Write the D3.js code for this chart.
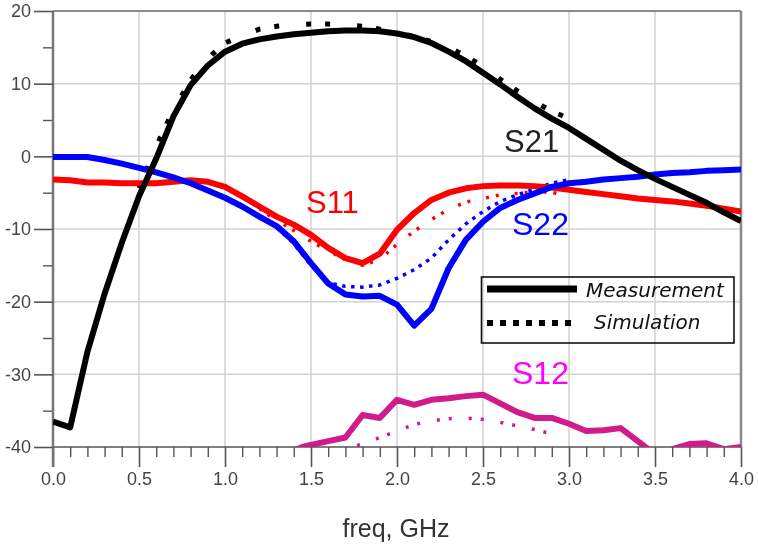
<!DOCTYPE html>
<html>
<head>
<meta charset="utf-8">
<script src="https://cdnjs.cloudflare.com/ajax/libs/d3/7.8.5/d3.min.js"></script>
<style>
  html, body { margin: 0; padding: 0; background: #fff; overflow: hidden; }
  svg { display: block; filter: blur(0.45px); }
  text { font-family: "Liberation Sans", Arial, sans-serif; }
  .axis text { font-size: 18px; fill: #444; }
  .legend-text { font-family: "DejaVu Sans", sans-serif; font-style: italic; font-size: 20px; fill: #111; }
</style>
</head>
<body>
<div id="chart"></div>
<script>
// measured sweep, GHz
const freq = [0, 0.1, 0.2, 0.3, 0.4, 0.5, 0.6, 0.7, 0.8, 0.9, 1.0, 1.1, 1.2, 1.3, 1.4, 1.5, 1.6, 1.7, 1.8, 1.9, 2.0,
  2.1, 2.2, 2.3, 2.4, 2.5, 2.6, 2.7, 2.8, 2.9, 3.0, 3.1, 3.2, 3.3, 3.4, 3.5, 3.6, 3.7, 3.8, 3.9, 4.0];

// measurement, dB
const s21Meas = [-36.5, -37.3, -26.9, -18.9, -11.9, -5.5, -0.3, 5.5, 9.8, 12.5, 14.4, 15.5, 16.1, 16.5, 16.8, 17.0, 17.2, 17.3, 17.3, 17.2, 16.9,
  16.4, 15.6, 14.4, 13.1, 11.5, 9.9, 8.2, 6.6, 5.2, 3.9, 2.4, 0.9, -0.6, -1.9, -3.1, -4.2, -5.3, -6.4, -7.7, -8.9];
const s11Meas = [-3.2, -3.3, -3.6, -3.6, -3.7, -3.7, -3.7, -3.5, -3.3, -3.5, -4.2, -5.5, -6.9, -8.3, -9.4, -10.8, -12.6, -14.0, -14.7, -13.4, -10.1,
  -7.8, -6.0, -5.0, -4.4, -4.1, -4.0, -4.0, -4.1, -4.3, -4.6, -4.9, -5.2, -5.5, -5.8, -6.0, -6.2, -6.5, -6.8, -7.2, -7.6];
const s22Meas = [-0.1, -0.1, -0.1, -0.5, -1.0, -1.6, -2.2, -2.9, -3.7, -4.7, -5.7, -6.9, -8.3, -9.6, -11.7, -14.7, -17.5, -19.0, -19.3, -19.2, -20.4,
  -23.3, -21.0, -15.4, -11.5, -9.0, -7.1, -6.0, -5.1, -4.2, -3.7, -3.5, -3.2, -3.0, -2.8, -2.5, -2.3, -2.2, -2.0, -1.9, -1.8];
const s12Freq = [1.4, 1.45, 1.5, 1.6, 1.7, 1.8, 1.9, 2.0, 2.1, 2.2, 2.3, 2.4, 2.5, 2.6, 2.7, 2.8, 2.9, 3.0, 3.1, 3.2, 3.3, 3.4, 3.5, 3.6, 3.7, 3.8, 3.9, 4.0];
const s12Meas = [-40.5, -40, -39.7, -39.2, -38.7, -35.6, -36, -33.5, -34.2, -33.5, -33.3, -33, -32.8, -34, -35.2, -36, -36, -36.8, -37.8, -37.7, -37.4, -39.2, -41, -40.3, -39.6, -39.5, -40.3, -40];

// simulation, dB
const s21SimFreq = [0.5, 0.6, 0.7, 0.8, 0.9, 1.0, 1.1, 1.2, 1.3, 1.4, 1.5, 1.6, 1.7, 1.8, 1.9, 2.0, 2.1, 2.2, 2.3, 2.4, 2.5, 2.6, 2.7, 2.8, 2.9, 3.0];
const s21Sim = [-4.4, 1.4, 6.4, 10.5, 13.5, 15.6, 16.6, 17.5, 17.9, 18.1, 18.2, 18.2, 18.1, 17.9, 17.5, 17, 16.5, 15.8, 15, 13.8, 12.4, 10.6, 9, 7.5, 6.2, 5.2];
const s11SimFreq = [1.2, 1.3, 1.4, 1.5, 1.6, 1.7, 1.8, 1.9, 2.0, 2.1, 2.2, 2.3, 2.4, 2.5, 2.6, 2.7, 2.8, 2.9, 2.95];
const s11Sim = [-7.2, -8.8, -10.2, -11.7, -13, -14.2, -15, -14.2, -12.1, -10.3, -8.7, -7.3, -6.3, -5.8, -5.3, -5.1, -4.9, -4.9, -5.3];
const s22SimFreq = [1.3, 1.4, 1.5, 1.6, 1.7, 1.8, 1.9, 2.0, 2.1, 2.2, 2.3, 2.4, 2.5, 2.6, 2.7, 2.8, 2.9, 3.0];
const s22Sim = [-9.8, -12, -15, -17.4, -17.9, -18, -17.7, -16.8, -15.6, -14, -11.5, -9.3, -7.6, -6.2, -5.3, -4.5, -3.7, -3.2];
const s12SimFreq = [1.7, 1.8, 1.9, 2.0, 2.1, 2.2, 2.3, 2.4, 2.5, 2.6, 2.7, 2.8, 2.9, 2.95];
const s12Sim = [-40.2, -39.6, -38.7, -37.8, -36.9, -36.4, -36.1, -36, -36.2, -36.6, -37.1, -37.6, -38.2, -38.5];

const xTicks = [0, 0.5, 1, 1.5, 2, 2.5, 3, 3.5, 4];
const yTicks = [20, 10, 0, -10, -20, -30, -40];
const yMinorTicks = [15, 5, -5, -15, -25, -35];

const W = 758, H = 544;
const m = { left: 53, right: 741, top: 11, bottom: 447 };

const x = d3.scaleLinear().domain([0, 4]).range([m.left, m.right]);
const y = d3.scaleLinear().domain([-40, 20]).range([m.bottom, m.top]);

const svg = d3.select('#chart').append('svg').attr('width', W).attr('height', H);

svg.append('defs').append('clipPath').attr('id', 'plot')
  .append('rect').attr('x', m.left).attr('y', m.top)
  .attr('width', m.right - m.left).attr('height', m.bottom - m.top);

// grid
svg.append('g').selectAll('line').data(xTicks.slice(1, -1)).join('line')
  .attr('x1', d => x(d)).attr('x2', d => x(d))
  .attr('y1', m.top).attr('y2', m.bottom)
  .attr('stroke', '#d2d2d2').attr('stroke-width', 1.5);
svg.append('g').selectAll('line').data(yTicks.slice(1, -1)).join('line')
  .attr('x1', m.left).attr('x2', m.right)
  .attr('y1', d => y(d)).attr('y2', d => y(d))
  .attr('stroke', '#d2d2d2').attr('stroke-width', 1.5);

// top and right frame
svg.append('line').attr('x1', m.left).attr('x2', m.right).attr('y1', m.top).attr('y2', m.top)
  .attr('stroke', '#666').attr('stroke-width', 1.5);
svg.append('line').attr('x1', m.right).attr('x2', m.right).attr('y1', m.top).attr('y2', m.bottom)
  .attr('stroke', '#888').attr('stroke-width', 2.5);

// axes, minor ticks first
const minorStyle = g => {
  g.select('.domain').remove();
  g.selectAll('text').remove();
  g.selectAll('line').attr('stroke', '#555').attr('stroke-width', 1.4);
};
svg.append('g').attr('transform', `translate(0,${m.bottom})`)
  .call(d3.axisBottom(x).tickValues(freq.filter(f => !xTicks.includes(f))).tickSize(10))
  .call(minorStyle);
svg.append('g').attr('transform', `translate(${m.left},0)`)
  .call(d3.axisLeft(y).tickValues(yMinorTicks).tickSize(10))
  .call(minorStyle);

const xAxis = svg.append('g').attr('class', 'axis').attr('transform', `translate(0,${m.bottom})`)
  .call(d3.axisBottom(x).tickValues(xTicks).tickFormat(d3.format('.1f')).tickSize(20).tickPadding(5));
xAxis.select('.domain').attr('d', `M${m.left},0H${m.right}`).attr('stroke', '#555').attr('stroke-width', 1.5);
xAxis.selectAll('line').attr('stroke', '#555').attr('stroke-width', 1.6);

const yAxis = svg.append('g').attr('class', 'axis').attr('transform', `translate(${m.left},0)`)
  .call(d3.axisLeft(y).tickValues(yTicks).tickFormat(d => String(d)).tickSize(19).tickPadding(3));
yAxis.select('.domain').attr('d', `M0,${m.top}V${m.bottom + 20}`).attr('stroke', '#777').attr('stroke-width', 2.5);
yAxis.selectAll('line').attr('stroke', '#555').attr('stroke-width', 1.6);

svg.append('text').attr('x', 396).attr('y', 537).attr('text-anchor', 'middle')
  .attr('font-size', 25).attr('fill', '#333').text('freq, GHz');

// curves
const line = d3.line().x(d => x(d[0])).y(d => y(d[1]));
const plot = svg.append('g').attr('clip-path', 'url(#plot)');
const draw = (xs, ys, color, width, dash) => plot.append('path')
  .attr('d', line(d3.zip(xs, ys)))
  .attr('fill', 'none').attr('stroke', color).attr('stroke-width', width)
  .attr('stroke-linejoin', 'round')
  .attr('stroke-dasharray', dash || null);

// simulation underneath
draw(s21SimFreq, s21Sim, '#000', 5, '5 14 5 27');
draw(s11SimFreq, s11Sim, '#f00', 3.5, '3 7 3 16');
draw(s22SimFreq, s22Sim, '#00f', 3.5, '3.5 5.5');
draw(s12SimFreq, s12Sim, '#d01c8b', 3.5, '3 9 3 17');

draw(freq, s11Meas, '#f00', 6);
draw(freq, s22Meas, '#00f', 6);
draw(s12Freq, s12Meas, '#d01c8b', 6);
draw(freq, s21Meas, '#000', 6);

// curve names
const labels = svg.append('g');
labels.append('text').attr('x', 306).attr('y', 213).attr('font-size', 31).attr('fill', '#f00').text('S11');
labels.append('text').attr('x', 504).attr('y', 152).attr('font-size', 31).attr('fill', '#222').text('S21');
labels.append('text').attr('x', 512).attr('y', 235).attr('font-size', 32).attr('fill', '#00f').text('S22');
labels.append('text').attr('x', 512).attr('y', 384).attr('font-size', 32).attr('fill', '#f0f').text('S12');

// legend, the grid shows through it
const legend = svg.append('g');
legend.append('rect').attr('x', 481.5).attr('y', 277).attr('width', 252.5).attr('height', 66)
  .attr('fill', 'none').attr('stroke', '#111').attr('stroke-width', 1.6);
legend.append('line').attr('x1', 487).attr('x2', 577).attr('y1', 289).attr('y2', 289)
  .attr('stroke', '#000').attr('stroke-width', 7);
legend.append('line').attr('x1', 487).attr('x2', 572).attr('y1', 323).attr('y2', 323)
  .attr('stroke', '#000').attr('stroke-width', 6).attr('stroke-dasharray', '6 7');
legend.append('text').attr('class', 'legend-text').attr('x', 586).attr('y', 297).text('Measurement');
legend.append('text').attr('class', 'legend-text').attr('x', 594).attr('y', 329).text('Simulation');
</script>
</body>
</html>
